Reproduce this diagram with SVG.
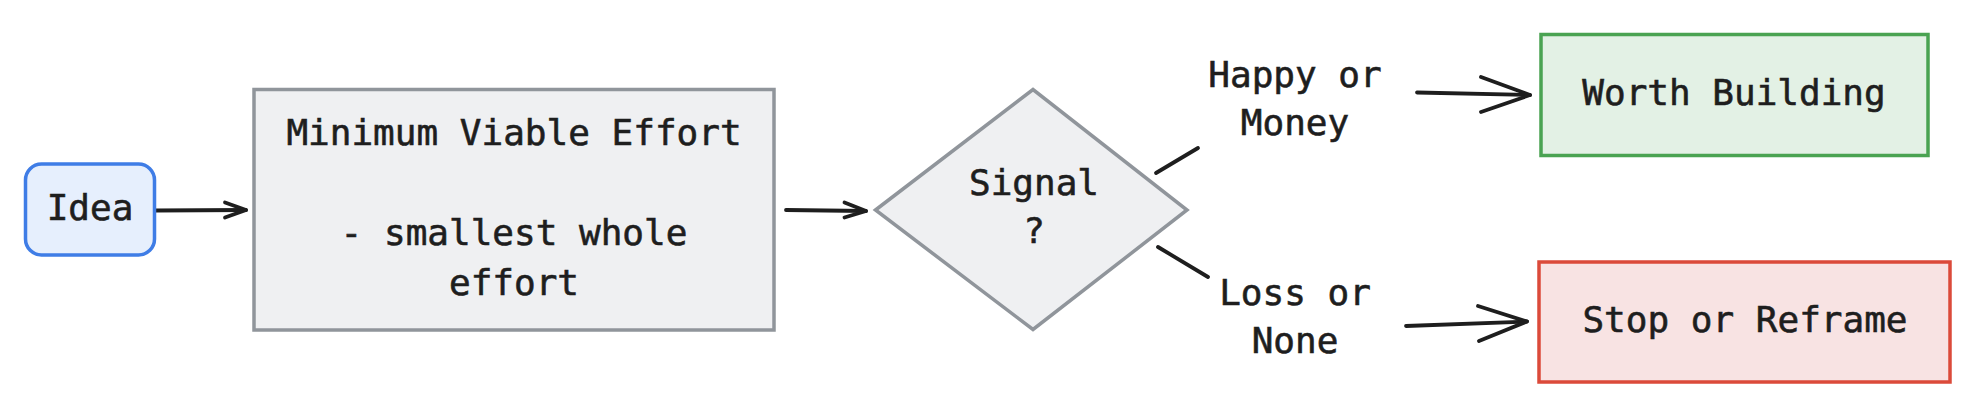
<svg xmlns="http://www.w3.org/2000/svg" width="1972" height="408" viewBox="0 0 1972 408">
<style>
text{font-family:"DejaVu Sans Mono","Liberation Mono",monospace;font-size:36px;fill:#1e1e1e;stroke:#1e1e1e;stroke-width:0.6;text-anchor:middle}
.ln{fill:none;stroke:#1e1e1e;stroke-width:3.8;stroke-linecap:round;stroke-linejoin:round}
.gray{fill:#eff0f2;stroke:#90959b;stroke-width:3.5}
</style>
<rect width="1972" height="408" fill="#ffffff"/>
<g id="connectors">
<path class="ln" d="M156,210.5 L246,210"/>
<path class="ln" d="M225,202.5 L246,210 L225,217.5"/>
<path class="ln" d="M786,210 L866,211"/>
<path class="ln" d="M844.5,202.5 L866,211 L844.5,217.5"/>
<path class="ln" d="M1156,173 L1198,148"/>
<path class="ln" d="M1158,247 L1208,277"/>
<path class="ln" d="M1417,92.5 L1530,95"/>
<path class="ln" d="M1481,77 L1530,95 L1481,112"/>
<path class="ln" d="M1406,326 L1527,321.5"/>
<path class="ln" d="M1478,306 L1527,321.5 L1479,341"/>
</g>
<g id="idea">
<rect x="25.5" y="164" width="129" height="91" rx="16" fill="#e6effd" stroke="#3f7de6" stroke-width="3.5"/>
<text x="90" y="220">Idea</text>
</g>
<g id="mve">
<rect class="gray" x="254" y="89.5" width="520" height="240.5"/>
<text x="514" y="145">Minimum Viable Effort</text>
<text x="514" y="245">- smallest whole</text>
<text x="514" y="295">effort</text>
</g>
<g id="signal">
<polygon class="gray" points="875.5,210 1033,89.5 1187,210 1033,329.5"/>
<text x="1034" y="195">Signal</text>
<text x="1034" y="243">?</text>
</g>
<g id="label-happy">
<text x="1295" y="87">Happy or</text>
<text x="1295" y="135">Money</text>
</g>
<g id="label-loss">
<text x="1295" y="305">Loss or</text>
<text x="1295" y="353">None</text>
</g>
<g id="worth">
<rect x="1541" y="34.5" width="387" height="121" fill="#e3f1e5" stroke="#4aa352" stroke-width="3.5"/>
<text x="1734" y="105">Worth Building</text>
</g>
<g id="stop">
<rect x="1539" y="262" width="411" height="120" fill="#f8e3e3" stroke="#db4a3a" stroke-width="3.5"/>
<text x="1745" y="332">Stop or Reframe</text>
</g>
</svg>
